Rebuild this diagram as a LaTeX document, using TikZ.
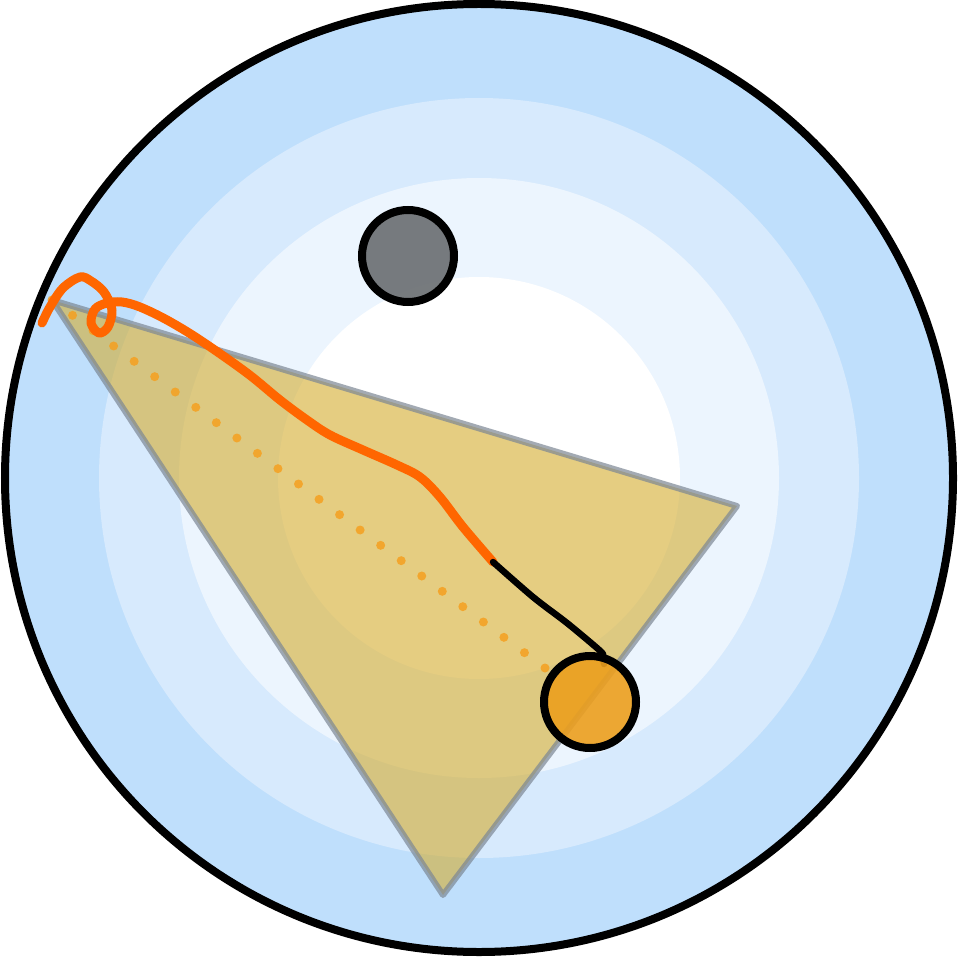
\documentclass[tikz,border=0pt]{standalone}
\usepackage{tikz}
\usetikzlibrary{calc}
\definecolor{ringA}{HTML}{BFDFFC}
\definecolor{ringB}{HTML}{D7EAFD}
\definecolor{ringC}{HTML}{ECF5FE}
\definecolor{wedge}{HTML}{D4AC2E}
\definecolor{wedgeline}{HTML}{7C8794}
\definecolor{trailor}{HTML}{FF6600}
\definecolor{dotor}{HTML}{F5A020}
\definecolor{ballor}{HTML}{EC9F1E}
\definecolor{ballgr}{HTML}{707478}

\begin{document}
\begin{tikzpicture}[x=1pt, y=-1pt,
  ball/.style={circle, draw=black, line width=8pt, minimum size=92pt, inner sep=0pt},
  trail/.style={line width=9pt, trailor, line cap=round, line join=round},
  tail/.style={line width=6.5pt, black, line cap=round, line join=round}
]
\useasboundingbox (0,0) rectangle (958,957);
% rings
\fill[ringA] (479,478) circle (474);
\fill[ringB] (479,478) circle (380);
\fill[ringC] (479,478) circle (300);
\fill[white] (479,478) circle (201);
\draw[line width=8pt] (479,478) circle (474);

% gray ball
\node[ball, fill=ballgr, fill opacity=0.95] (grayball) at (408,256) {};

% wedge
\coordinate (tA) at (52,300);
\coordinate (tB) at (737,506);
\coordinate (tC) at (443,895);
\filldraw[fill=wedge, fill opacity=0.6, draw=wedgeline, draw opacity=0.7,
  line width=6pt, line join=round] (tA) -- (tB) -- (tC) -- cycle;

% dotted guide
\coordinate (dotend) at (545,668);
\foreach \i in {0,...,24}
  \fill[dotor, opacity=0.85] ($(tA)!\i/24!(dotend)$) circle (4.5);

% trail
\coordinate (join) at (493,562);
\draw[trail] plot[smooth, tension=0.55] coordinates {
  (42,323) (50,307) (63,288) (80,277) (91,281) (104,292) (112,310)
  (108,327) (99,333) (91,323) (95,309) (107,303) (122,302) (140,307)
  (167,320) (200,340) (247,373) (280,400) (307,420) (330,435)
  (363,450) (397,465) (420,477) (440,497) (463,527) (join)};
\draw[tail] plot[smooth, tension=0.5] coordinates {
  (join) (533,597) (567,623) (597,648) (603,654)} -- (604,664);

% orange ball
\node[ball, fill=ballor, fill opacity=0.9] (orangeball) at (590,702) {};
\end{tikzpicture}
\end{document}
